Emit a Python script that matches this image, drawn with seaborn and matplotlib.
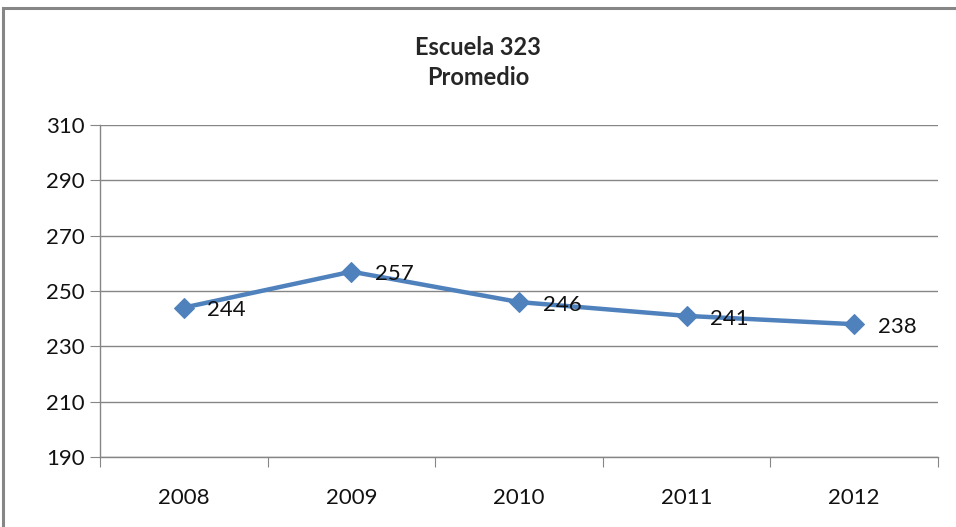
import pandas as pd
import seaborn as sns
import matplotlib.pyplot as plt
from matplotlib.patches import Rectangle

years = ['2008', '2009', '2010', '2011', '2012']
promedio = [244, 257, 246, 241, 238]
y_ticks = [190, 210, 230, 250, 270, 290, 310]

df = pd.DataFrame({'Año': years, 'Promedio': promedio})

sns.set_style('white')
plt.rcParams['font.family'] = ['Lato', 'DejaVu Sans']

fig = plt.figure(figsize=(9.56, 5.27), dpi=100)
ax = fig.add_axes([0.1046, 0.1328, 0.8766, 0.63])

# chart area border (Excel style)
fig.patches.append(Rectangle((3 / 956, -0.1), 1.2, 1.1 - 8 / 527, transform=fig.transFigure,
                             fill=False, edgecolor='#868686', linewidth=2.2))

sns.lineplot(data=df, x='Año', y='Promedio', ax=ax, color='#4F81BD', linewidth=3.2,
             marker='D', markersize=10, markeredgecolor='#4F81BD', sort=False)

for i, v in enumerate(promedio):
    ax.annotate(str(v), (i, v), xytext=(17, -2), textcoords='offset points',
                ha='left', va='center', fontsize=16, color='#111111')

ax.set_xlim(-0.5, len(years) - 0.5)
ax.set_ylim(190, 310)
ax.set_yticks(y_ticks)
ax.set_xticks([i - 0.5 for i in range(len(years) + 1)], minor=False)
ax.set_xticklabels([])
ax.set_xticks(range(len(years)), minor=True)
ax.set_xticklabels(years, minor=True)
ax.tick_params(axis='x', which='major', length=7, color='#868686', direction='out', bottom=True)
ax.tick_params(axis='x', which='minor', length=0, labelsize=16, pad=22, labelcolor='#111111')
ax.tick_params(axis='y', length=7, color='#868686', direction='out', left=True, labelsize=16,
               pad=4, labelcolor='#111111')
ax.yaxis.grid(True, color='#868686', linewidth=1)
ax.set_axisbelow(True)
for s in ['top', 'right']:
    ax.spines[s].set_visible(False)
for s in ['left', 'bottom']:
    ax.spines[s].set_color('#868686')
    ax.spines[s].set_linewidth(1)
ax.set_xlabel('')
ax.set_ylabel('')

fig.text(0.5, 0.91, 'Escuela 323', ha='center', va='center', fontsize=17, fontweight='bold')
fig.text(0.5, 0.852, 'Promedio', ha='center', va='center', fontsize=17, fontweight='bold')

fig.savefig('out.png', dpi=100)
